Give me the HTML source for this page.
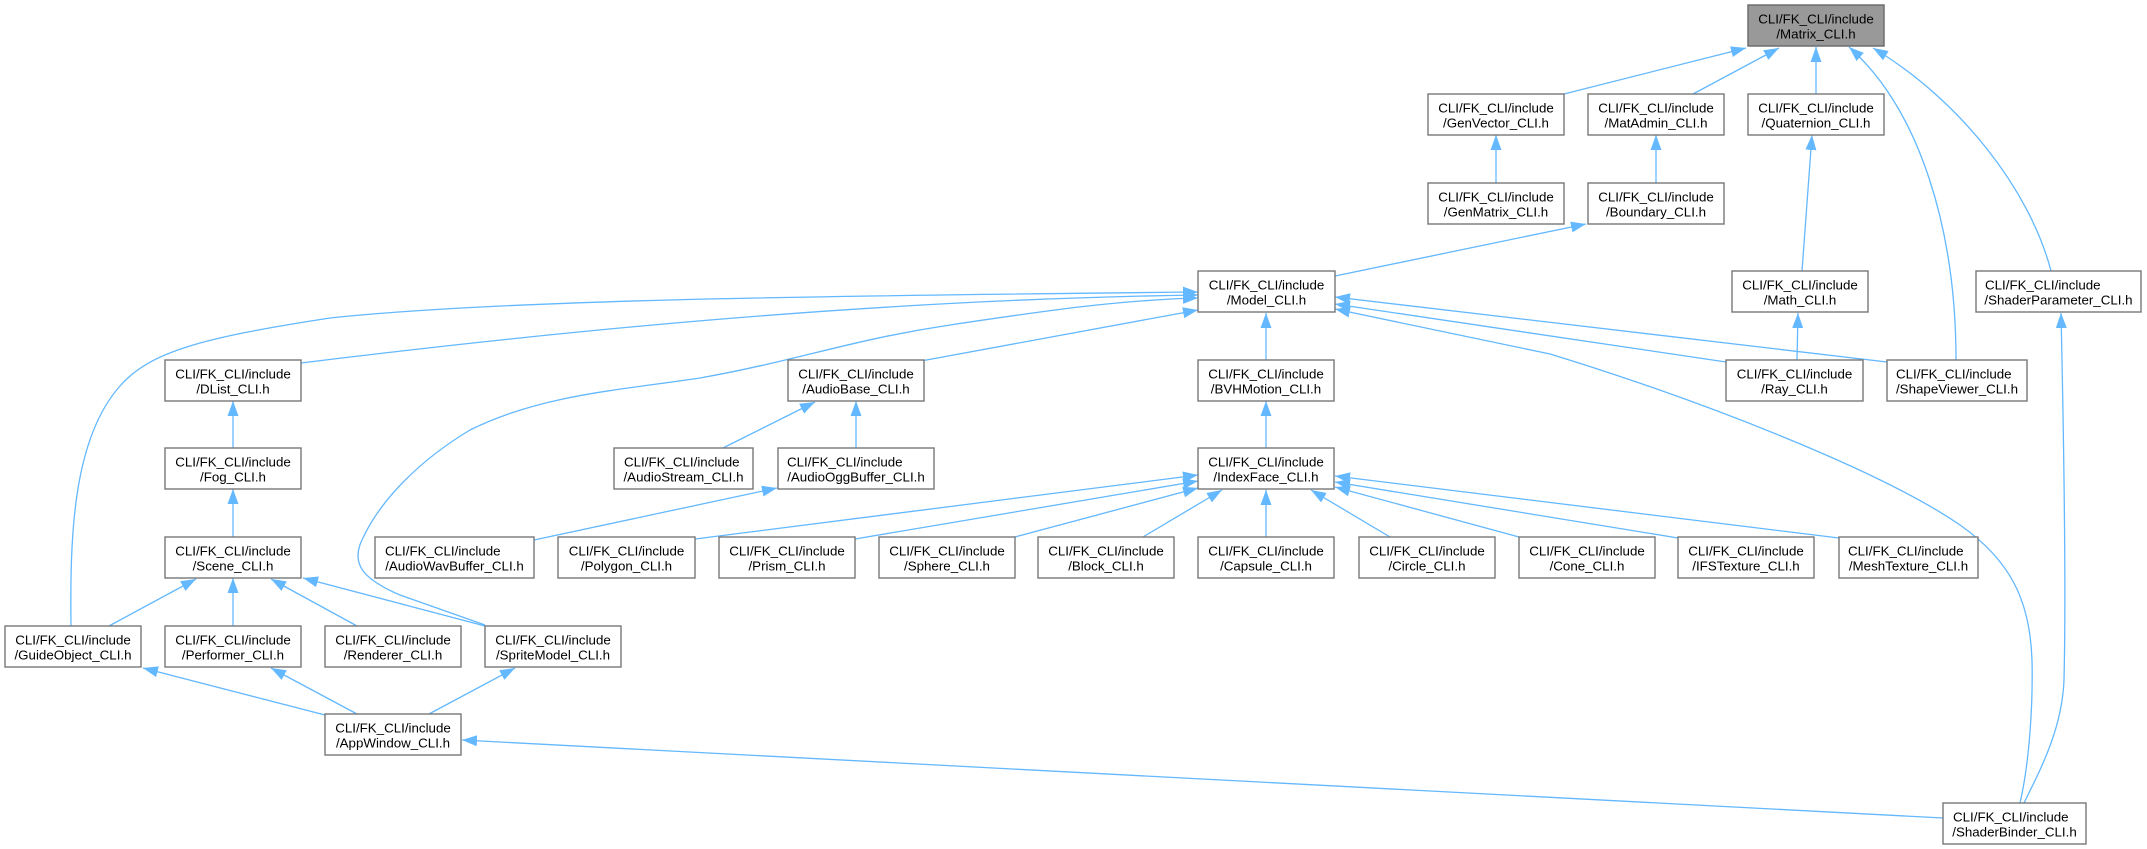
<!DOCTYPE html>
<html><head><meta charset="utf-8"><style>
html,body{margin:0;padding:0;background:#fff;}
svg{display:block;}
text{font-family:"Liberation Sans",Arial,Helvetica,sans-serif;font-size:13.33px;fill:#000;}
.n{fill:#fff;stroke:#777;stroke-width:1.4;}
.r{fill:#999;stroke:#666;stroke-width:1.4;}
.e{fill:none;stroke:#63b8ff;stroke-width:1.3;marker-start:url(#a);}
.m{text-anchor:middle;}
</style></head><body>
<svg width="2147" height="849" viewBox="0 0 2147 849" xmlns="http://www.w3.org/2000/svg">
<defs>
<marker id="a" markerUnits="userSpaceOnUse" markerWidth="16" markerHeight="12" refX="15" refY="5.5" orient="auto-start-reverse" viewBox="0 0 16 11"><path d="M0,0 L15,5.5 L0,11 z" fill="#63b8ff"/></marker>
</defs>
<rect width="2147" height="849" fill="#fff"/>

<!-- edges -->
<path class="e" d="M1746,48 L1564,94"/>
<path class="e" d="M1779,48 L1693,94"/>
<path class="e" d="M1816,47 L1816,94"/>
<path class="e" d="M1849,47 C1920,110 1956,230 1956,360"/>
<path class="e" d="M1873,48 C1960,100 2030,190 2051,271"/>
<path class="e" d="M1496,135 L1496,183"/>
<path class="e" d="M1656,135 L1656,183"/>
<path class="e" d="M1586,224 L1335,276"/>
<path class="e" d="M1812,135 L1802,271"/>
<path class="e" d="M1798,313 L1797,360"/>
<path class="e" d="M2061,313 C2064,450 2066,600 2064,680 C2062,730 2040,770 2024,803"/>
<path class="e" d="M1198,292 C800,296 500,300 330,318 C200,338 150,352 120,386 C72,440 70,540 71,626"/>
<path class="e" d="M1198,295 C850,300 520,336 301,363"/>
<path class="e" d="M1198,298 C1120,300 1050,310 950,325 C850,340 800,360 700,378 C620,390 540,395 470,430 C420,460 380,500 362,540 C350,565 365,580 400,595 L485,625"/>
<path class="e" d="M1198,310 L921,361"/>
<path class="e" d="M1266,313 L1266,360"/>
<path class="e" d="M1335,304 L1726,362"/>
<path class="e" d="M1335,297 L1887,362"/>
<path class="e" d="M1335,309 L1550,354 C1700,400 1880,470 1960,525 C2010,560 2030,600 2032,660 C2033,700 2030,760 2020,803"/>
<path class="e" d="M233,401 L233,448"/>
<path class="e" d="M233,489 L233,537"/>
<path class="e" d="M196,579 L109,626"/>
<path class="e" d="M233,578 L233,626"/>
<path class="e" d="M271,579 L357,626"/>
<path class="e" d="M303,578 L485,626"/>
<path class="e" d="M143,668 L325,715"/>
<path class="e" d="M271,668 L357,714"/>
<path class="e" d="M515,668 L429,714"/>
<path class="e" d="M462,740 L1943,818"/>
<path class="e" d="M815,402 L723,448"/>
<path class="e" d="M856,401 L856,448"/>
<path class="e" d="M777,488 L534,540"/>
<path class="e" d="M1266,401 L1266,448"/>
<path class="e" d="M1198,475 L695,539"/>
<path class="e" d="M1198,481 L855,539"/>
<path class="e" d="M1198,488 L1015,537"/>
<path class="e" d="M1222,490 L1143,537"/>
<path class="e" d="M1266,490 L1266,537"/>
<path class="e" d="M1311,490 L1390,537"/>
<path class="e" d="M1335,487 L1519,537"/>
<path class="e" d="M1335,482 L1678,538"/>
<path class="e" d="M1335,476 L1839,538"/>

<!-- nodes -->
<rect class="r" x="1748" y="5" width="136" height="41"/>
<text class="m" x="1816" y="23.5">CLI/FK_CLI/include</text><text class="m" x="1816" y="38.5">/Matrix_CLI.h</text>

<rect class="n" x="1428" y="94" width="136" height="41"/>
<text class="m" x="1496" y="112.5">CLI/FK_CLI/include</text><text class="m" x="1496" y="127.5">/GenVector_CLI.h</text>
<rect class="n" x="1588" y="94" width="136" height="41"/>
<text class="m" x="1656" y="112.5">CLI/FK_CLI/include</text><text class="m" x="1656" y="127.5">/MatAdmin_CLI.h</text>
<rect class="n" x="1748" y="94" width="136" height="41"/>
<text class="m" x="1816" y="112.5">CLI/FK_CLI/include</text><text class="m" x="1816" y="127.5">/Quaternion_CLI.h</text>

<rect class="n" x="1428" y="183" width="136" height="41"/>
<text class="m" x="1496" y="201.5">CLI/FK_CLI/include</text><text class="m" x="1496" y="216.5">/GenMatrix_CLI.h</text>
<rect class="n" x="1588" y="183" width="136" height="41"/>
<text class="m" x="1656" y="201.5">CLI/FK_CLI/include</text><text class="m" x="1656" y="216.5">/Boundary_CLI.h</text>

<rect class="n" x="1198" y="271" width="137" height="41"/>
<text class="m" x="1266.5" y="289.5">CLI/FK_CLI/include</text><text class="m" x="1266.5" y="304.5">/Model_CLI.h</text>
<rect class="n" x="1732" y="271" width="136" height="41"/>
<text class="m" x="1800" y="289.5">CLI/FK_CLI/include</text><text class="m" x="1800" y="304.5">/Math_CLI.h</text>
<rect class="n" x="1976" y="271" width="165" height="41"/>
<text x="1985" y="289.5">CLI/FK_CLI/include</text><text class="m" x="2058.5" y="304.5">/ShaderParameter_CLI.h</text>

<rect class="n" x="165" y="360" width="136" height="41"/>
<text class="m" x="233" y="378.5">CLI/FK_CLI/include</text><text class="m" x="233" y="393.5">/DList_CLI.h</text>
<rect class="n" x="788" y="360" width="136" height="41"/>
<text class="m" x="856" y="378.5">CLI/FK_CLI/include</text><text class="m" x="856" y="393.5">/AudioBase_CLI.h</text>
<rect class="n" x="1198" y="360" width="136" height="41"/>
<text class="m" x="1266" y="378.5">CLI/FK_CLI/include</text><text class="m" x="1266" y="393.5">/BVHMotion_CLI.h</text>
<rect class="n" x="1726" y="360" width="137" height="41"/>
<text class="m" x="1794.5" y="378.5">CLI/FK_CLI/include</text><text class="m" x="1794.5" y="393.5">/Ray_CLI.h</text>
<rect class="n" x="1887" y="360" width="140" height="41"/>
<text x="1896" y="378.5">CLI/FK_CLI/include</text><text class="m" x="1957" y="393.5">/ShapeViewer_CLI.h</text>

<rect class="n" x="165" y="448" width="136" height="41"/>
<text class="m" x="233" y="466.5">CLI/FK_CLI/include</text><text class="m" x="233" y="481.5">/Fog_CLI.h</text>
<rect class="n" x="614" y="448" width="139" height="41"/>
<text x="624" y="466.5">CLI/FK_CLI/include</text><text class="m" x="683.5" y="481.5">/AudioStream_CLI.h</text>
<rect class="n" x="778" y="448" width="156" height="41"/>
<text x="787" y="466.5">CLI/FK_CLI/include</text><text class="m" x="856" y="481.5">/AudioOggBuffer_CLI.h</text>
<rect class="n" x="1198" y="448" width="136" height="41"/>
<text class="m" x="1266" y="466.5">CLI/FK_CLI/include</text><text class="m" x="1266" y="481.5">/IndexFace_CLI.h</text>

<rect class="n" x="165" y="537" width="136" height="41"/>
<text class="m" x="233" y="555.5">CLI/FK_CLI/include</text><text class="m" x="233" y="570.5">/Scene_CLI.h</text>
<rect class="n" x="375" y="537" width="159" height="41"/>
<text x="385" y="555.5">CLI/FK_CLI/include</text><text class="m" x="454.5" y="570.5">/AudioWavBuffer_CLI.h</text>
<rect class="n" x="558" y="537" width="137" height="41"/>
<text class="m" x="626.5" y="555.5">CLI/FK_CLI/include</text><text class="m" x="626.5" y="570.5">/Polygon_CLI.h</text>
<rect class="n" x="719" y="537" width="136" height="41"/>
<text class="m" x="787" y="555.5">CLI/FK_CLI/include</text><text class="m" x="787" y="570.5">/Prism_CLI.h</text>
<rect class="n" x="879" y="537" width="136" height="41"/>
<text class="m" x="947" y="555.5">CLI/FK_CLI/include</text><text class="m" x="947" y="570.5">/Sphere_CLI.h</text>
<rect class="n" x="1038" y="537" width="136" height="41"/>
<text class="m" x="1106" y="555.5">CLI/FK_CLI/include</text><text class="m" x="1106" y="570.5">/Block_CLI.h</text>
<rect class="n" x="1198" y="537" width="136" height="41"/>
<text class="m" x="1266" y="555.5">CLI/FK_CLI/include</text><text class="m" x="1266" y="570.5">/Capsule_CLI.h</text>
<rect class="n" x="1359" y="537" width="136" height="41"/>
<text class="m" x="1427" y="555.5">CLI/FK_CLI/include</text><text class="m" x="1427" y="570.5">/Circle_CLI.h</text>
<rect class="n" x="1519" y="537" width="136" height="41"/>
<text class="m" x="1587" y="555.5">CLI/FK_CLI/include</text><text class="m" x="1587" y="570.5">/Cone_CLI.h</text>
<rect class="n" x="1678" y="537" width="136" height="41"/>
<text class="m" x="1746" y="555.5">CLI/FK_CLI/include</text><text class="m" x="1746" y="570.5">/IFSTexture_CLI.h</text>
<rect class="n" x="1839" y="537" width="139" height="41"/>
<text x="1848" y="555.5">CLI/FK_CLI/include</text><text class="m" x="1908.5" y="570.5">/MeshTexture_CLI.h</text>

<rect class="n" x="5" y="626" width="136" height="41"/>
<text class="m" x="73" y="644.5">CLI/FK_CLI/include</text><text class="m" x="73" y="659.5">/GuideObject_CLI.h</text>
<rect class="n" x="165" y="626" width="136" height="41"/>
<text class="m" x="233" y="644.5">CLI/FK_CLI/include</text><text class="m" x="233" y="659.5">/Performer_CLI.h</text>
<rect class="n" x="325" y="626" width="136" height="41"/>
<text class="m" x="393" y="644.5">CLI/FK_CLI/include</text><text class="m" x="393" y="659.5">/Renderer_CLI.h</text>
<rect class="n" x="485" y="626" width="136" height="41"/>
<text class="m" x="553" y="644.5">CLI/FK_CLI/include</text><text class="m" x="553" y="659.5">/SpriteModel_CLI.h</text>

<rect class="n" x="325" y="714" width="136" height="41"/>
<text class="m" x="393" y="732.5">CLI/FK_CLI/include</text><text class="m" x="393" y="747.5">/AppWindow_CLI.h</text>

<rect class="n" x="1943" y="803" width="143" height="41"/>
<text x="1953" y="821.5">CLI/FK_CLI/include</text><text class="m" x="2014.5" y="836.5">/ShaderBinder_CLI.h</text>
</svg>
</body></html>
